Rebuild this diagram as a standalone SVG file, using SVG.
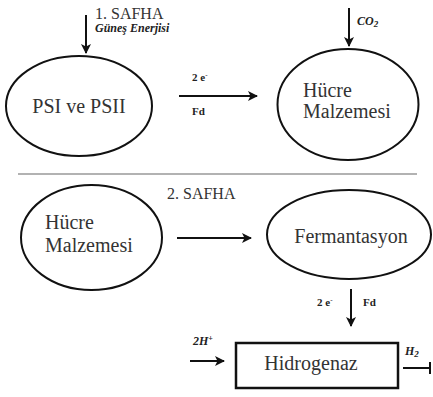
<svg xmlns="http://www.w3.org/2000/svg" width="433" height="397" viewBox="0 0 433 397">
<defs>
<marker id="ah" viewBox="0 0 10 10" refX="9" refY="5" markerWidth="5" markerHeight="5" orient="auto" markerUnits="strokeWidth">
<path d="M0,0 L10,5 L0,10 L2.5,5 Z" fill="#111"/>
</marker>
<style>
.n{fill:#fff;stroke:#111;stroke-width:2}
.t{font-family:"Liberation Serif","Times New Roman",serif;font-size:20px;fill:#333}
.h{font-family:"Liberation Serif","Times New Roman",serif;font-size:16px;fill:#333}
.s{font-family:"Liberation Serif","Times New Roman",serif;font-size:11px;font-weight:bold;fill:#222}
.i{font-family:"Liberation Serif","Times New Roman",serif;font-size:12px;font-weight:bold;font-style:italic;fill:#222}
.c{stroke:#111;stroke-width:2;fill:none}
.a{marker-end:url(#ah)}
</style>
</defs>
<rect width="433" height="397" fill="#fff"/>
<line x1="18" y1="174" x2="417" y2="174" stroke="#999" stroke-width="1.5"/>
<text class="h" x="95" y="19">1. SAFHA</text>
<text class="i" x="95" y="32" font-size="12.5">Güneş Enerjisi</text>
<text class="h" x="167" y="199">2. SAFHA</text>
<g id="connectors">
<line class="c a" x1="86" y1="15" x2="86" y2="53"/>
<line class="c a" x1="349" y1="8" x2="349" y2="46"/>
<line class="c a" x1="179" y1="96" x2="257" y2="96"/>
<line class="c a" x1="177" y1="238" x2="251" y2="238"/>
<line class="c a" x1="351" y1="289" x2="351" y2="326"/>
<line class="c a" x1="190" y1="361" x2="224" y2="361" stroke-width="1.5"/>
<line class="c" x1="403" y1="368" x2="430" y2="368" stroke-width="1.5"/>
<line class="c" x1="430" y1="362" x2="430" y2="374" stroke-width="1.5"/>
<text class="s" x="192" y="81">2 e<tspan font-size="7" dy="-4">-</tspan></text>
<text class="s" x="192" y="115">Fd</text>
<text class="i" x="357" y="25">CO<tspan font-size="9" dy="2">2</tspan></text>
<text class="s" x="317" y="306">2 e<tspan font-size="7" dy="-4">-</tspan></text>
<text class="s" x="363" y="306">Fd</text>
<text class="i" x="193" y="345">2H<tspan font-size="8" dy="-4">+</tspan></text>
<text class="i" x="405" y="355">H<tspan font-size="9" dy="2">2</tspan></text>
</g>
<g id="psi">
<ellipse class="n" cx="79" cy="106" rx="73" ry="50"/>
<text class="t" x="79" y="113" text-anchor="middle">PSI ve PSII</text>
</g>
<g id="hucre1">
<ellipse class="n" cx="348" cy="104.5" rx="70.5" ry="55.5"/>
<text class="t" x="303" y="97">Hücre</text>
<text class="t" x="303" y="118">Malzemesi</text>
</g>
<g id="hucre2">
<ellipse class="n" cx="91.5" cy="237.5" rx="70.5" ry="52.5"/>
<text class="t" x="45" y="229">Hücre</text>
<text class="t" x="45" y="252">Malzemesi</text>
</g>
<g id="fermantasyon">
<ellipse class="n" cx="349" cy="234.5" rx="82" ry="44.5"/>
<text class="t" x="351" y="243" text-anchor="middle">Fermantasyon</text>
</g>
<g id="hidrogenaz">
<rect x="236" y="343" width="162" height="45" fill="#fff" stroke="#111" stroke-width="2.5"/>
<text class="t" x="311" y="370" text-anchor="middle">Hidrogenaz</text>
</g>
</svg>
